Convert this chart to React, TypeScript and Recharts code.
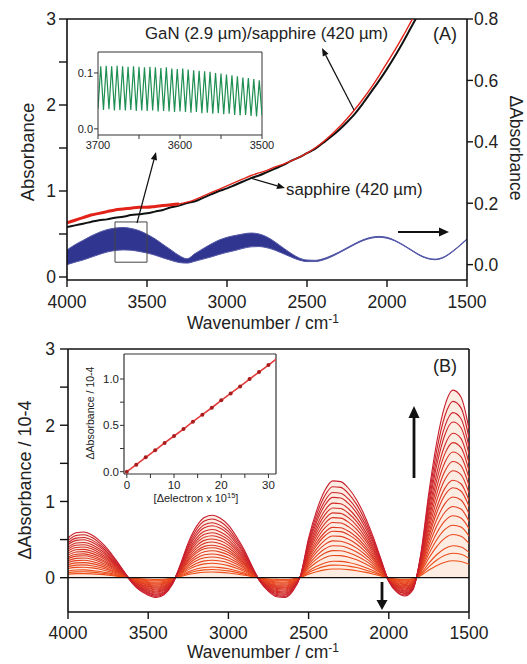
import React from 'react';
import { ComposedChart, Line, Area, XAxis, YAxis, ReferenceLine, ReferenceArea } from 'recharts';

const FONT = '"Liberation Sans", Arial, Helvetica, sans-serif';

// ---------- Data ----------
const wavenumbers = [4000, 3950, 3900, 3850, 3800, 3750, 3700, 3650, 3600, 3550, 3500, 3450, 3400, 3350, 3300, 3250, 3200, 3150, 3100, 3050, 3000, 2950, 2900, 2850, 2800, 2750, 2700, 2650, 2600, 2550, 2500, 2450, 2400, 2350, 2300, 2250, 2200, 2150, 2100, 2050, 2000, 1950, 1900, 1850, 1800, 1750, 1700, 1650, 1600, 1550, 1500];

const absGaN = [0.63, 0.66, 0.69, 0.72, 0.74, 0.76, 0.78, 0.79, 0.80, 0.81, 0.81, 0.82, 0.83, 0.84, 0.85, 0.87, 0.90, 0.94, 0.98, 1.02, 1.06, 1.10, 1.14, 1.18, 1.21, 1.24, 1.28, 1.31, 1.35, 1.39, 1.44, 1.50, 1.57, 1.65, 1.74, 1.84, 1.95, 2.07, 2.20, 2.34, 2.49, 2.64, 2.80, 2.97, 3.14, null, null, null, null, null, null];

const absSapphire = [0.58, 0.60, 0.62, 0.64, 0.66, 0.67, 0.69, 0.70, 0.72, 0.73, 0.74, 0.76, 0.78, 0.81, 0.83, 0.86, 0.88, 0.92, 0.96, 1.00, 1.03, 1.07, 1.11, 1.15, 1.18, 1.22, 1.26, 1.30, 1.35, 1.39, 1.44, 1.49, 1.56, 1.63, 1.71, 1.80, 1.90, 2.02, 2.15, 2.28, 2.42, 2.57, 2.73, 2.90, 3.07, null, null, null, null, null, null];

const deltaLow = [0.000, 0.008, 0.015, 0.024, 0.033, 0.041, 0.046, 0.048, 0.047, 0.043, 0.038, 0.031, 0.022, 0.014, 0.007, 0.005, 0.011, 0.018, 0.025, 0.033, 0.040, 0.046, 0.053, 0.058, 0.059, 0.055, 0.047, 0.036, 0.025, 0.015, 0.010, 0.010, 0.015, 0.025, 0.038, 0.052, 0.066, 0.078, 0.086, 0.089, 0.086, 0.077, 0.063, 0.047, 0.031, 0.020, 0.016, 0.022, 0.038, 0.059, 0.082];
const deltaHigh = [0.048, 0.065, 0.079, 0.093, 0.105, 0.114, 0.119, 0.121, 0.118, 0.111, 0.099, 0.084, 0.066, 0.048, 0.030, 0.019, 0.036, 0.052, 0.067, 0.080, 0.089, 0.095, 0.100, 0.103, 0.100, 0.090, 0.074, 0.055, 0.037, 0.022, 0.015, 0.014, 0.019, 0.029, 0.041, 0.055, 0.069, 0.081, 0.089, 0.092, 0.089, 0.079, 0.065, 0.049, 0.033, 0.022, 0.018, 0.024, 0.040, 0.061, 0.084];

// largest difference spectrum (panel B)
const diffProfile = [0.52, 0.59, 0.60, 0.56, 0.48, 0.37, 0.23, 0.08, -0.07, -0.17, -0.23, -0.26, -0.22, -0.09, 0.17, 0.46, 0.67, 0.79, 0.82, 0.78, 0.69, 0.54, 0.36, 0.14, -0.06, -0.18, -0.25, -0.26, -0.18, 0.03, 0.52, 0.88, 1.14, 1.27, 1.26, 1.17, 1.02, 0.81, 0.55, 0.25, -0.05, -0.19, -0.24, -0.16, 0.32, 1.12, 1.79, 2.26, 2.46, 2.37, 1.95];
// relative size of each of the successive difference spectra
const curveScales = [1, 0.94, 0.88, 0.83, 0.77, 0.72, 0.67, 0.62, 0.57, 0.52, 0.48, 0.43, 0.38, 0.33, 0.28, 0.23, 0.17, 0.13, 0.09];

// inset A (fringes, 3700-3500 cm-1)
const fringeTroughs = [0.036, 0.034, 0.035, 0.033, 0.034, 0.033, 0.034, 0.032, 0.033, 0.032, 0.033, 0.031, 0.032, 0.031, 0.030, 0.031, 0.030, 0.029, 0.030, 0.028, 0.029, 0.027, 0.028, 0.026, 0.027, 0.025, 0.024, 0.025, 0.023, 0.022, 0.024];
const fringePeaks = [0.112, 0.113, 0.112, 0.113, 0.112, 0.111, 0.112, 0.111, 0.110, 0.111, 0.110, 0.109, 0.110, 0.108, 0.107, 0.108, 0.106, 0.105, 0.104, 0.103, 0.102, 0.100, 0.099, 0.097, 0.096, 0.094, 0.092, 0.091, 0.089, 0.087];

// inset B
const electrons = [0, 2, 4, 6, 8, 10, 12, 14, 16, 18, 20, 22, 24, 26, 28, 30, 32];
const insetDeltaAbs = [0.0, 0.075, 0.155, 0.23, 0.31, 0.385, 0.46, 0.54, 0.615, 0.69, 0.77, 0.845, 0.92, 1.0, 1.075, 1.15, 1.23];

const xTicks = [4000, 3500, 3000, 2500, 2000, 1500];
const leftTicksA = [0, 0.5, 1, 1.5, 2, 2.5, 3];
const rightTicksA = [0, 0.2, 0.4, 0.6, 0.8];
const leftTicksB = [0, 0.5, 1, 1.5, 2, 2.5, 3];
const insetATicksX = [3700, 3650, 3600, 3550, 3500];
const insetATicksY = [0, 0.1];
const insetBTicksX = [0, 5, 10, 15, 20, 25, 30];
const insetBTicksY = [0, 0.25, 0.5, 0.75, 1.0];

// ---------- Tables ----------
const topData = wavenumbers.map((w, i) => ({
  w,
  red: absGaN[i],
  redThick: w >= 3300 ? absGaN[i] : null,
  black: absSapphire[i],
  band: [deltaLow[i], deltaHigh[i]],
}));

const bottomData = wavenumbers.map((w, i) => {
  const row: any = { w };
  curveScales.forEach((s, k) => {
    row['c' + k] = +(diffProfile[i] * s).toFixed(4);
  });
  return row;
});

const fringeData: { w: number; v: number }[] = [];
for (let i = 0; i < fringeTroughs.length + fringePeaks.length; i++) {
  const v = i % 2 === 0 ? fringeTroughs[i / 2] : fringePeaks[(i - 1) / 2];
  fringeData.push({ w: 3700 - (i * 200) / 60, v });
}

const insetBData = electrons.map((e, i) => ({ e, a: insetDeltaAbs[i] }));

// ---------- helpers ----------
const mkTick = (anchor: 'start' | 'end' | 'middle', fs: number, fmt: (v: number) => string | null, vertical: boolean) =>
  (props: any) => {
    const { x, y, payload } = props;
    const label = fmt(payload.value);
    if (label === null) return <g />;
    return (
      <text x={x} y={y} dy={vertical ? '0.36em' : '0.75em'} textAnchor={anchor} fontSize={fs} fontFamily={FONT} fill="#222">
        {label}
      </text>
    );
  };

const intOnly = (v: number) => (Math.abs(v - Math.round(v)) < 1e-9 ? String(Math.round(v)) : null);

function lineColor(k: number, n: number) {
  const t = k / (n - 1);
  const r = Math.round(200 + t * 40);
  const g = Math.round(30 + t * 50);
  const b = Math.round(45 - t * 20);
  return `rgb(${r},${g},${b})`;
}

function Arrow({ x1, y1, x2, y2, w = 1.2, head = 8, hw = 3.5 }: any) {
  const dx = x2 - x1, dy = y2 - y1;
  const L = Math.sqrt(dx * dx + dy * dy);
  const ux = dx / L, uy = dy / L;
  const bx = x2 - ux * head, by = y2 - uy * head;
  const px = -uy * hw, py = ux * hw;
  return (
    <g>
      <line x1={x1} y1={y1} x2={bx} y2={by} stroke="#111" strokeWidth={w} />
      <polygon points={`${x2},${y2} ${bx + px},${by + py} ${bx - px},${by - py}`} fill="#111" />
    </g>
  );
}

export default function App() {
  const tickStyle = { stroke: '#111', strokeWidth: 1.4 };
  return (
    <div style={{ position: 'absolute', left: 0, top: 0, width: 527, height: 664, background: '#fff', overflow: 'hidden' }}>
      {/* Panel A */}
      <div style={{ position: 'absolute', left: 0, top: 0 }}>
        <ComposedChart width={527} height={340} data={topData} margin={{ top: 19, right: 20, bottom: 30, left: 27 }}>
          <XAxis dataKey="w" type="number" domain={[1500, 4000]} reversed ticks={xTicks} allowDataOverflow
            height={30} tickSize={7} tickMargin={8} axisLine={{ stroke: '#111', strokeWidth: 1.6 }} tickLine={tickStyle}
            tick={mkTick('middle', 17.5, (v) => String(v), false)} interval={0} />
          <YAxis yAxisId="left" domain={[-0.035, 3]} ticks={leftTicksA} allowDataOverflow width={40} tickSize={8} tickMargin={3}
            axisLine={{ stroke: '#111', strokeWidth: 1.6 }} tickLine={tickStyle} tick={mkTick('end', 17.5, intOnly, true)} interval={0} />
          <YAxis yAxisId="right" orientation="right" domain={[-0.05, 0.8]} ticks={rightTicksA} allowDataOverflow width={40} tickSize={6} tickMargin={1}
            axisLine={{ stroke: '#111', strokeWidth: 1.6 }} tickLine={tickStyle} tick={mkTick('start', 17.5, (v) => v.toFixed(1), true)} interval={0} />
          <ReferenceLine yAxisId="left" y={3} stroke="#111" strokeWidth={1.6} />
          <Area yAxisId="right" dataKey="band" type="monotone" fill="#30368f" fillOpacity={1} stroke="#5458a8" strokeWidth={1} isAnimationActive={false} dot={false} activeDot={false} />
          <Line yAxisId="left" dataKey="black" type="monotone" stroke="#111" strokeWidth={2} dot={false} activeDot={false} isAnimationActive={false} />
          <Line yAxisId="left" dataKey="redThick" type="monotone" stroke="#e2231a" strokeWidth={3} dot={false} activeDot={false} isAnimationActive={false} />
          <Line yAxisId="left" dataKey="red" type="monotone" stroke="#e2231a" strokeWidth={1.4} dot={false} activeDot={false} isAnimationActive={false} />
          <ReferenceArea yAxisId="right" x1={3700} x2={3500} y1={0.008} y2={0.139} fill="none" stroke="#444" strokeWidth={1} />
        </ComposedChart>
      </div>

      {/* Panel B */}
      <div style={{ position: 'absolute', left: 0, top: 330 }}>
        <ComposedChart width={527} height={334} data={bottomData} margin={{ top: 19, right: 58, bottom: 22, left: 28 }}>
          <XAxis dataKey="w" type="number" domain={[1500, 4000]} reversed ticks={xTicks} allowDataOverflow
            height={30} tickSize={7} tickMargin={7} axisLine={{ stroke: '#111', strokeWidth: 1.6 }} tickLine={tickStyle}
            tick={mkTick('middle', 17.5, (v) => String(v), false)} interval={0} />
          <YAxis domain={[-0.45, 3]} ticks={leftTicksB} allowDataOverflow width={40} tickSize={8} tickMargin={5}
            axisLine={{ stroke: '#111', strokeWidth: 1.6 }} tickLine={tickStyle} tick={mkTick('end', 17.5, intOnly, true)} interval={0} />
          <ReferenceLine y={3} stroke="#111" strokeWidth={1.6} />
          <ReferenceLine x={1500} stroke="#111" strokeWidth={1.6} />
          <Area dataKey="c0" type="monotone" fill="#fdece2" fillOpacity={1} stroke="none" isAnimationActive={false} dot={false} activeDot={false} />
          {curveScales.map((_, k) => {
            const idx = curveScales.length - 1 - k;
            return (
              <Line key={idx} dataKey={'c' + idx} type="monotone" stroke={lineColor(idx, curveScales.length)} strokeWidth={1.1}
                dot={false} activeDot={false} isAnimationActive={false} />
            );
          })}
          <ReferenceLine y={0} stroke="#111" strokeWidth={1.2} />
        </ComposedChart>
      </div>

      {/* Inset A */}
      <div style={{ position: 'absolute', left: 60, top: 45 }}>
        <ComposedChart width={225} height={115} data={fringeData} margin={{ top: 7, right: 23, bottom: 5, left: 0 }}>
          <XAxis dataKey="w" type="number" domain={[3500, 3700]} reversed ticks={insetATicksX} allowDataOverflow height={20}
            tickSize={4} tickMargin={2} axisLine={{ stroke: '#333', strokeWidth: 1 }} tickLine={{ stroke: '#333' }}
            tick={mkTick('middle', 11, (v) => (v % 100 === 0 ? String(v) : null), false)} interval={0} />
          <YAxis domain={[-0.011, 0.1375]} ticks={insetATicksY} allowDataOverflow width={38} tickSize={4} tickMargin={1}
            axisLine={{ stroke: '#333', strokeWidth: 1 }} tickLine={{ stroke: '#333' }}
            tick={mkTick('end', 11, (v) => v.toFixed(1), true)} interval={0} />
          <ReferenceLine y={0.1375} stroke="#333" strokeWidth={1} />
          <ReferenceLine x={3500} stroke="#333" strokeWidth={1} />
          <Line dataKey="v" type="linear" stroke="#1e8f52" strokeWidth={1.2} dot={false} activeDot={false} isAnimationActive={false} />
        </ComposedChart>
      </div>

      {/* Inset B */}
      <div style={{ position: 'absolute', left: 80, top: 348 }}>
        <ComposedChart width={205} height={160} data={insetBData} margin={{ top: 6, right: 9, bottom: 18, left: 6 }}>
          <XAxis dataKey="e" type="number" domain={[-0.6, 31.6]} ticks={insetBTicksX} allowDataOverflow height={16}
            tickSize={4} tickMargin={2} axisLine={{ stroke: '#333', strokeWidth: 1.2 }} tickLine={{ stroke: '#333' }}
            tick={mkTick('middle', 11.5, (v) => (v % 10 === 0 ? String(v) : null), false)} interval={0} />
          <YAxis domain={[-0.025, 1.27]} ticks={insetBTicksY} allowDataOverflow width={38} tickSize={4} tickMargin={1}
            axisLine={{ stroke: '#333', strokeWidth: 1.2 }} tickLine={{ stroke: '#333' }}
            tick={mkTick('end', 11.5, (v) => (Math.abs(v * 2 - Math.round(v * 2)) < 1e-9 ? v.toFixed(1) : null), true)} interval={0} />
          <ReferenceLine y={1.27} stroke="#333" strokeWidth={1.2} />
          <ReferenceLine x={31.6} stroke="#333" strokeWidth={1.2} />
          <Line dataKey="a" type="linear" stroke="#e33b3b" strokeWidth={1.6}
            dot={{ r: 2, fill: '#a81c1c', stroke: 'none' }} activeDot={false} isAnimationActive={false} />
        </ComposedChart>
      </div>

      {/* Annotations */}
      <svg width={527} height={664} style={{ position: 'absolute', left: 0, top: 0, pointerEvents: 'none' }} fontFamily={FONT}>
        <text x={27} y={152} transform="rotate(-90 27 152)" textAnchor="middle" dominantBaseline="central" fontSize={18.5} fill="#222">Absorbance</text>
        <text x={516} y={148} transform="rotate(90 516 148)" textAnchor="middle" dominantBaseline="central" fontSize={17.5} fill="#222">ΔAbsorbance</text>
        <text x={263} y={329} textAnchor="middle" fontSize={17.5} fill="#222">Wavenumber / cm<tspan fontSize={12} dy={-6}>-1</tspan></text>
        <text x={263} y={658} textAnchor="middle" fontSize={17.5} fill="#222">Wavenumber / cm<tspan fontSize={12} dy={-6}>-1</tspan></text>
        <text x={25} y={480} transform="rotate(-90 25 480)" textAnchor="middle" dominantBaseline="central" fontSize={18} fill="#222">ΔAbsorbance / 10-4</text>

        <text x={145} y={39} fontSize={16.8} fill="#222">GaN (2.9 µm)/sapphire (420 µm)</text>
        <text x={433} y={40} fontSize={18} fill="#222">(A)</text>
        <text x={286} y={195} fontSize={16.8} fill="#222">sapphire (420 µm)</text>
        <text x={433} y={372} fontSize={18} fill="#222">(B)</text>

        <text x={90} y={413} transform="rotate(-90 90 413)" textAnchor="middle" dominantBaseline="central" fontSize={10.5} fill="#222">ΔAbsorbance / 10-4</text>
        <text x={196} y={502} textAnchor="middle" fontSize={11} fill="#222">[Δelectron x 10<tspan fontSize={7.5} dy={-4}>15</tspan><tspan dy={4}>]</tspan></text>

        <Arrow x1={354} y1={110} x2={322} y2={48} w={1.2} head={8} hw={3.2} />
        <Arrow x1={250} y1={178} x2={285} y2={188} w={1.2} head={8} hw={3.2} />
        <Arrow x1={137} y1={223} x2={156} y2={152} w={1.2} head={8} hw={3.2} />
        <Arrow x1={398} y1={232} x2={449} y2={232} w={2} head={10} hw={4.5} />
        <Arrow x1={414} y1={478} x2={414} y2={406} w={2.8} head={12} hw={5.5} />
        <Arrow x1={382} y1={582} x2={382} y2={610} w={2.8} head={10} hw={5.5} />
      </svg>
    </div>
  );
}
